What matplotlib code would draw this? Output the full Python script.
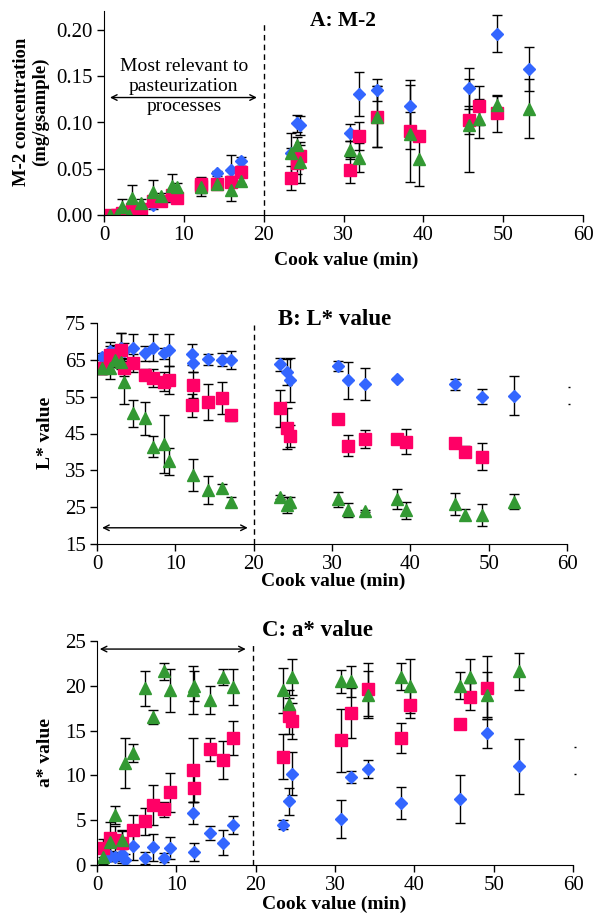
import numpy as np
import matplotlib
matplotlib.use('Agg')
import matplotlib.pyplot as plt

nan = np.nan

# cook values (min), shared by all series
cook = [0.7, 1.6, 2.3, 3.1, 3.5, 4.6, 6.1, 7.1, 8.5, 9.2, 12.1, 12.2, 14.2, 15.9, 17.1,
        23.4, 24.2, 24.6, 30.8, 32.0, 34.2, 38.3, 39.5, 45.7, 47.0, 49.2, 53.2]

# A: M-2 concentration
m2_blue = [0.0, 0.0, 0.003, 0.0, 0.005, 0.008, 0.011, 0.016, 0.019, 0.020, 0.033, 0.031, 0.045, 0.049, 0.058,
           0.067, 0.099, 0.097, 0.089, 0.131, 0.135, 0.118, nan, 0.137, nan, 0.196, 0.158]
m2_blue_err = [0.002, 0.002, 0.003, 0.002, 0.004, 0.004, 0.004, 0.004, 0.005, 0.005, 0.008, 0.006, 0.003, 0.016, 0.005,
               0.005, 0.009, 0.010, 0.009, 0.024, 0.012, 0.028, nan, 0.022, nan, 0.020, 0.024]
m2_pink = [0.0, 0.0, 0.002, 0.003, 0.006, 0.007, 0.015, 0.015, 0.022, 0.018, 0.031, 0.033, 0.034, 0.036, 0.047,
           0.040, 0.056, 0.064, 0.049, 0.085, 0.106, 0.091, 0.085, 0.103, 0.118, 0.110, nan]
m2_pink_err = [0.002, 0.002, 0.003, 0.003, 0.004, 0.004, 0.004, 0.004, 0.005, 0.005, 0.007, 0.007, 0.005, 0.006, 0.006,
               0.013, 0.012, 0.012, 0.014, 0.015, 0.033, 0.020, 0.005, 0.015, 0.021, 0.020, nan]
m2_green = [0.0, 0.0, 0.009, 0.0, 0.018, 0.013, 0.025, 0.020, 0.031, 0.030, nan, 0.030, 0.033, 0.027, 0.037,
            0.067, 0.076, 0.057, 0.070, 0.062, 0.106, 0.088, 0.061, 0.097, 0.104, 0.119, 0.115]
m2_green_err = [0.002, 0.002, 0.008, 0.002, 0.014, 0.004, 0.013, 0.004, 0.013, 0.005, nan, 0.010, 0.004, 0.012, 0.004,
                0.022, 0.008, 0.022, 0.010, 0.016, 0.033, 0.052, 0.030, 0.050, 0.021, 0.010, 0.032]

# B: L* value
L_blue = [65.9, 67.4, 67.0, 68.3, 67.5, 68.3, 66.8, 68.3, 66.8, 67.7, 66.5, 64.1, 65.1, 65.0, 65.0,
          63.8, 61.6, 59.5, 63.3, 59.5, 58.4, 59.7, nan, 58.4, nan, 55.0, 55.2]
L_blue_err = [1.0, 2.5, 2.0, 3.9, 2.0, 3.8, 2.0, 3.7, 1.5, 4.3, 2.8, 2.5, 1.5, 1.8, 2.5,
              1.8, 3.5, 5.9, 1.3, 5.0, 4.4, 0.3, nan, 1.5, nan, 2.0, 5.3]
L_pink = [62.7, 66.3, 65.0, 67.7, 62.7, 64.1, 60.9, 60.0, 59.1, 59.5, 52.7, 58.2, 53.6, 54.7, 50.0,
          51.8, 46.4, 44.3, 48.9, 41.7, 43.5, 43.5, 42.8, 42.3, 40.1, 38.7, nan]
L_pink_err = [1.5, 2.5, 2.0, 4.5, 2.0, 2.5, 1.5, 2.5, 2.5, 3.8, 3.1, 3.5, 4.8, 4.3, 1.5,
              5.0, 5.6, 3.0, 1.2, 2.8, 2.5, 0.5, 3.5, 0.3, 1.5, 3.7, nan]
L_green = [62.7, 62.7, 65.0, 64.4, 59.1, 50.5, 49.1, 41.4, 42.2, 37.4, nan, 33.7, 29.7, 30.1, 26.5,
           27.8, 25.6, 26.3, 27.1, 24.2, 24.0, 27.1, 24.1, 25.9, 22.9, 22.9, 26.5]
L_green_err = [1.5, 3.0, 2.0, 2.0, 6.0, 3.6, 4.4, 2.8, 7.8, 3.6, nan, 4.4, 3.8, 1.2, 1.3,
               0.5, 2.2, 1.5, 2.0, 2.0, 0.3, 2.7, 2.2, 3.0, 1.5, 3.0, 2.0]

# C: a* value
a_blue = [nan, 1.0, 0.9, 1.2, 0.6, 2.1, 0.8, 2.0, 0.8, 1.9, 5.8, 1.4, 3.6, 2.5, 4.5,
          4.5, 7.1, 10.2, 5.1, 9.8, 10.7, 6.9, nan, 7.4, nan, 14.7, 11.0]
a_blue_err = [nan, 0.5, 0.5, 1.0, 0.6, 1.5, 0.7, 1.5, 0.5, 1.2, 1.2, 1.0, 0.8, 1.4, 1.0,
              0.5, 1.5, 2.4, 2.1, 0.7, 1.0, 1.8, nan, 2.7, nan, 1.6, 3.1]
a_pink = [1.9, 3.0, 2.8, 2.4, nan, 3.9, 4.9, 6.7, 6.2, 8.1, 10.6, 8.6, 12.9, 11.7, 14.2,
          12.1, 16.6, 16.1, 13.9, 17.0, 19.6, 14.2, 17.9, 15.7, 18.8, 19.8, nan]
a_pink_err = [1.0, 1.8, 1.5, 1.5, nan, 1.7, 1.5, 2.2, 0.8, 2.2, 3.6, 1.6, 1.3, 2.1, 1.9,
              2.5, 2.0, 2.0, 3.5, 2.8, 3.0, 1.7, 1.5, 0.5, 1.5, 3.5, nan]
a_green = [0.9, 2.6, 5.6, 2.8, 11.4, 12.5, 19.7, 16.5, 21.6, 19.5, 19.5, 20.0, 18.4, 21.0, 19.9,
           19.5, 18.0, 21.0, 20.5, 20.5, 19.0, 21.0, 20.0, 20.0, 21.0, 19.0, 21.6]
a_green_err = [0.8, 1.0, 1.0, 1.0, 2.8, 1.0, 2.0, 0.8, 1.0, 2.4, 2.7, 1.7, 1.6, 0.9, 2.0,
               2.5, 1.5, 2.0, 1.3, 1.7, 2.6, 1.5, 3.0, 1.5, 2.0, 2.5, 2.1]

c_blue = '#3366FF'
c_pink = '#FF0066'
c_green = '#339933'

plt.rcParams['font.family'] = ['Liberation Serif', 'DejaVu Serif']

W, H = 595, 913
f = plt.figure(figsize=(W / 100, H / 100), dpi=100)


def px_axes(left, right, bottom, top):
    # pixel box (top-origin) -> figure fraction axes
    return f.add_axes([left / W, 1 - bottom / H, (right - left) / W, (bottom - top) / H])


def draw_series(ax, ys, errs):
    styles = [(c_blue, 'D', 6.3), (c_pink, 's', 8.0), (c_green, '^', 9.0)]
    for (col, mk, ms), y, e in zip(styles, ys, errs):
        ax.errorbar(cook, y, yerr=e, fmt=mk, color=col, ms=ms, mec=col,
                    ecolor='black', elinewidth=1, capsize=3.5, capthick=1)


def style_axes(ax, ylim, yticks, fmt):
    ax.set_xlim(0, 60)
    ax.set_ylim(*ylim)
    ax.set_xticks(range(0, 61, 10))
    ax.set_yticks(yticks)
    ax.set_yticklabels([fmt.format(t) for t in yticks])
    ax.spines['top'].set_visible(False)
    ax.spines['right'].set_visible(False)
    ax.tick_params(direction='out', length=5, width=1, labelsize=15, colors='black', pad=3)
    ax.patch.set_alpha(0)


def fig_text(x, y, s, **kw):
    f.text(x / W, 1 - y / H, s, **kw)


# ---- A: M-2
ax1 = px_axes(104, 583, 215, 11.5)
draw_series(ax1, [m2_blue, m2_pink, m2_green], [m2_blue_err, m2_pink_err, m2_green_err])
style_axes(ax1, (0, 0.22), [0, 0.05, 0.10, 0.15, 0.20], '{:.2f}')
ax1.plot([20, 20], [0, 0.21], ls=(0, (4, 3)), color='black', lw=1)
ax1.annotate('', xy=(0.4, 0.127), xytext=(19.5, 0.127),
             arrowprops=dict(arrowstyle='<->', color='black', lw=1))
ax1.text(10, 0.139, 'Most relevant to\npasteurization\nprocesses', ha='center', va='center',
         fontsize=14, linespacing=1.25)
fig_text(343, 26, 'A: M-2', ha='center', va='baseline', fontsize=15.5, weight='bold')
fig_text(346, 265, 'Cook value (min)', ha='center', va='baseline', fontsize=14, weight='bold')
fig_text(31, 112, 'M-2 concentration\n(mg/gsample)', ha='center', va='center', rotation=90,
         fontsize=13.5, weight='bold', linespacing=1.1)

# ---- B: L* value
ax2 = px_axes(97, 567, 544, 323)
draw_series(ax2, [L_blue, L_pink, L_green], [L_blue_err, L_pink_err, L_green_err])
style_axes(ax2, (15, 75), [15, 25, 35, 45, 55, 65, 75], '{:d}')
ax2.plot([20, 20], [15, 74.5], ls=(0, (4, 3)), color='black', lw=1)
ax2.annotate('', xy=(0.3, 19.4), xytext=(19.6, 19.4),
             arrowprops=dict(arrowstyle='<->', color='black', lw=1))
ax2.plot([60.2, 60.2], [57.6, 53.0], ls='none', marker='_', ms=2, color='black', clip_on=False)
fig_text(335, 325, 'B: L* value', ha='center', va='baseline', fontsize=16.5, weight='bold')
fig_text(333, 586, 'Cook value (min)', ha='center', va='baseline', fontsize=14, weight='bold')
fig_text(45, 433, 'L* value', ha='center', va='center', rotation=90, fontsize=14, weight='bold')

# ---- C: a* value
ax3 = px_axes(97, 573, 865, 641)
draw_series(ax3, [a_blue, a_pink, a_green], [a_blue_err, a_pink_err, a_green_err])
style_axes(ax3, (0, 25), [0, 5, 10, 15, 20, 25], '{:d}')
ax3.plot([19.7, 19.7], [0, 24.8], ls=(0, (4, 3)), color='black', lw=1)
ax3.annotate('', xy=(0.0, 24.1), xytext=(19.1, 24.1),
             arrowprops=dict(arrowstyle='<->', color='black', lw=1))
ax3.plot([60.3, 60.3], [13.2, 10.2], ls='none', marker='_', ms=2, color='black', clip_on=False)
fig_text(317, 636, 'C: a* value', ha='center', va='baseline', fontsize=16.5, weight='bold')
fig_text(334, 909, 'Cook value (min)', ha='center', va='baseline', fontsize=14, weight='bold')
fig_text(46, 752, 'a* value', ha='center', va='center', rotation=90, fontsize=14, weight='bold')

f.savefig('out.png', dpi=100)
